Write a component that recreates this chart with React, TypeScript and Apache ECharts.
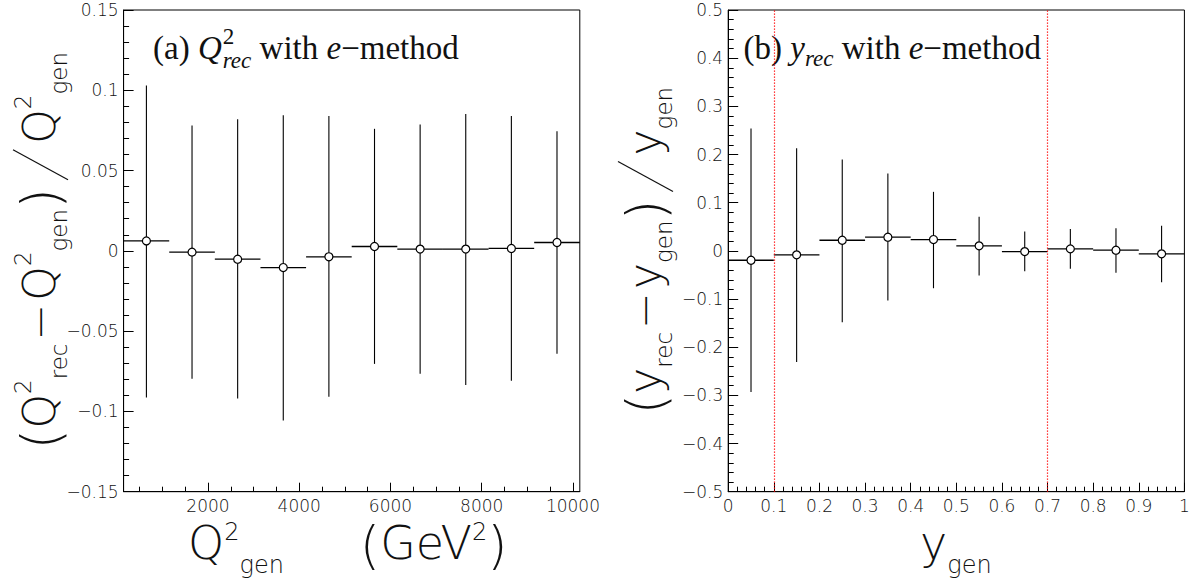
import React, { useEffect, useRef } from "react";
import * as echarts from "echarts";

// ---------------- data ----------------
// (a) Q^2 resolution: bin edges (GeV^2), mean relative residual, error-bar ends
const q2Edges = [150, 1150, 2150, 3150, 4150, 5150, 6150, 7150, 8150, 9150, 10150];
const q2Mean = [0.0062, -0.0008, -0.0052, -0.0104, -0.0037, 0.0027, 0.0011, 0.0011, 0.0015, 0.0052];
const q2ErrHigh = [0.103, 0.078, 0.082, 0.0845, 0.084, 0.076, 0.0787, 0.0853, 0.084, 0.0745];
const q2ErrLow = [-0.0913, -0.0797, -0.0919, -0.1056, -0.0909, -0.0704, -0.0766, -0.0836, -0.0809, -0.0641];
const q2MajorTicks = [2000, 4000, 6000, 8000, 10000];
const q2MinorTicks = [500, 1000, 1500, 2500, 3000, 3500, 4500, 5000, 5500, 6500, 7000, 7500, 8500, 9000, 9500];

// (b) y resolution
const yEdges = [0, 0.1, 0.2, 0.3, 0.4, 0.5, 0.6, 0.7, 0.8, 0.9, 1.0];
const yMean = [-0.0195, -0.0083, 0.022, 0.0283, 0.0235, 0.0104, -0.0015, 0.0041, 0.0013, -0.0062];
const yErrHigh = [0.254, 0.213, 0.1895, 0.1605, 0.1225, 0.0706, 0.04, 0.0456, 0.047, 0.052];
const yErrLow = [-0.293, -0.2305, -0.148, -0.1032, -0.0776, -0.0513, -0.0423, -0.0374, -0.0457, -0.065];
const yCuts = [0.1, 0.7];

// ---------------- styling ----------------
const SANS = '"DejaVu Sans", sans-serif';
const SERIF = '"Liberation Serif", "Times New Roman", serif';
const SANS_W = 300;
const TXT = "#111";

type Run = {
  t: string;
  size: number;
  dy?: number;
  italic?: boolean;
  stack?: boolean;
  padL?: number;
  padR?: number;
  scaleX?: number;
  slash?: { w: number; top: number; bottom: number };
};

let mctx: CanvasRenderingContext2D | null = null;
function measure(t: string, size: number, family: string, italic: boolean, weight: number | string) {
  if (!mctx) mctx = document.createElement("canvas").getContext("2d");
  mctx!.font = `${italic ? "italic" : "normal"} ${weight} ${size}px ${family}`;
  return mctx!.measureText(t).width;
}

function layout(runs: Run[], family: string, weight: number | string, central: number, shiftX = 0) {
  let x = 0;
  let prevStart = 0;
  const raw: any[] = [];
  for (const r of runs) {
    const sx = r.scaleX ?? 1;
    const w = r.slash ? r.slash.w : measure(r.t, r.size, family, !!r.italic, weight) * sx;
    let start: number;
    if (r.stack) {
      start = prevStart;
      x = Math.max(x, start + w + (r.padR ?? 0));
    } else {
      start = x + (r.padL ?? 0);
      x = start + w + (r.padR ?? 0);
    }
    prevStart = start;
    raw.push({ r, start, sx });
  }
  const width = x;
  const items = raw.map(({ r, start, sx }) => {
    if (r.slash) {
      return {
        type: "line",
        silent: true,
        shape: { x1: start + shiftX, y1: r.slash.bottom, x2: start + shiftX + r.slash.w, y2: r.slash.top },
        style: { stroke: TXT, lineWidth: 1.2 },
      };
    }
    return {
      type: "text",
      silent: true,
      x: start + shiftX,
      y: (r.dy ?? 0) - central * r.size,
      scaleX: sx,
      style: {
        text: r.t,
        fontSize: r.size,
        fontFamily: family,
        fontWeight: weight,
        fontStyle: r.italic ? "italic" : "normal",
        fill: TXT,
        align: "left",
        verticalAlign: "middle",
        textAlign: "left",
        textVerticalAlign: "middle",
      },
    };
  });
  return { items, width };
}

function centered(runs: Run[], family: string, weight: number | string, central: number) {
  const first = layout(runs, family, weight, central);
  return layout(runs, family, weight, central, -first.width / 2).items;
}

const fmt = (v: number) => parseFloat(v.toFixed(3)).toString().replace("-", "\u2212");

function rows(edges: number[], mean: number[], lo: number[], hi: number[]) {
  return mean.map((m, i) => [edges[i], edges[i + 1], m, lo[i], hi[i]]);
}

function renderBins(_params: any, api: any) {
  const x0 = api.value(0);
  const x1 = api.value(1);
  const v = api.value(2);
  const eLo = api.value(3);
  const eHi = api.value(4);
  const c = (x0 + x1) / 2;
  const pL = api.coord([x0, v]);
  const pR = api.coord([x1, v]);
  const pC = api.coord([c, v]);
  const pT = api.coord([c, eHi]);
  const pB = api.coord([c, eLo]);
  return {
    type: "group",
    children: [
      { type: "line", shape: { x1: pB[0], y1: pB[1], x2: pT[0], y2: pT[1] }, style: { stroke: "#000", lineWidth: 1.1 } },
      { type: "line", shape: { x1: pL[0], y1: pL[1], x2: pR[0], y2: pR[1] }, style: { stroke: "#000", lineWidth: 1.3 } },
      { type: "circle", shape: { cx: pC[0], cy: pC[1], r: 4 }, style: { fill: "#fff", stroke: "#000", lineWidth: 1.2 } },
    ],
  };
}

const GRID_TOP = 10;
const GRID_H = 481.7;
const GRID_W = 456.2;
const LEFT_A = 123.6;
const LEFT_B = 728.2;

const axisLineStyle = { show: true, onZero: false, lineStyle: { color: "#000", width: 1 } };
const labelStyle = { color: TXT, fontSize: 17, fontFamily: SANS, fontWeight: SANS_W };

export default function App() {
  const ref = useRef<HTMLDivElement>(null);

  useEffect(() => {
    if (!ref.current) return;
    const chart = echarts.init(ref.current, undefined, { renderer: "svg" });

    const BIG = 44;
    const SM = 23;
    const PAR = 54;
    const SLASH = { w: 30, top: -42, bottom: 13 };

    const leftYTitle: Run[] = [
      { t: "(", size: PAR, dy: 5 },
      { t: "Q", size: BIG },
      { t: "2", size: SM, dy: -24 },
      { t: "rec", size: SM, dy: 12 },
      { t: "\u2212", size: BIG, padL: 3, padR: 3 },
      { t: "Q", size: BIG },
      { t: "2", size: SM, dy: -24 },
      { t: "gen", size: SM, dy: 12 },
      { t: ")", size: PAR, dy: 5 },
      { t: "/", size: BIG, slash: SLASH, padL: 8, padR: 6 },
      { t: "Q", size: BIG },
      { t: "2", size: SM, dy: -24 },
      { t: "gen", size: SM, dy: 12 },
    ];
    const rightYTitle: Run[] = [
      { t: "(", size: PAR, dy: 5 },
      { t: "y", size: BIG },
      { t: "rec", size: SM, dy: 12 },
      { t: "\u2212", size: BIG, padL: 3, padR: 3 },
      { t: "y", size: BIG },
      { t: "gen", size: SM, dy: 12 },
      { t: ")", size: PAR, dy: 5 },
      { t: "/", size: BIG, slash: SLASH, padL: 8, padR: 6 },
      { t: "y", size: BIG },
      { t: "gen", size: SM, dy: 12 },
    ];
    const leftXTitle: Run[] = [
      { t: "Q", size: 46 },
      { t: "2", size: 24, dy: -19 },
      { t: "gen", size: 24, dy: 14 },
      { t: "(", size: 52, dy: 4, padL: 76 },
      { t: "GeV", size: 46 },
      { t: "2", size: 24, dy: -19 },
      { t: ")", size: 52, dy: 4 },
    ];
    const rightXTitle: Run[] = [
      { t: "y", size: 46 },
      { t: "gen", size: 24, dy: 14 },
    ];

    const TS = 33;
    const TSS = TS * 0.7;
    const titleA: Run[] = [
      { t: "(a) ", size: TS },
      { t: "Q", size: TS, italic: true, padR: 1 },
      { t: "2", size: TSS, dy: -0.45 * TS },
      { t: "rec", size: TSS, italic: true, dy: 0.28 * TS, stack: true },
      { t: " with ", size: TS },
      { t: "e", size: TS, italic: true },
      { t: "\u2212method", size: TS },
    ];
    const titleB: Run[] = [
      { t: "(b) ", size: TS },
      { t: "y", size: TS, italic: true },
      { t: "rec", size: TSS, italic: true, dy: 0.22 * TS },
      { t: " with ", size: TS },
      { t: "e", size: TS, italic: true },
      { t: "\u2212method", size: TS },
    ];

    const C_SANS = 0.345;
    const C_SERIF = 0.338;
    const midY = GRID_TOP + GRID_H / 2;

    const graphicEls: any[] = [
      { type: "group", x: 55, y: midY, rotation: Math.PI / 2, children: centered(leftYTitle, SANS, SANS_W, C_SANS) },
      { type: "group", x: 660, y: midY, rotation: Math.PI / 2, children: centered(rightYTitle, SANS, SANS_W, C_SANS) },
      { type: "group", x: 188, y: 559, children: layout(leftXTitle, SANS, SANS_W, C_SANS).items },
      { type: "group", x: 920, y: 559, children: layout(rightXTitle, SANS, SANS_W, C_SANS).items },
      { type: "group", x: 153, y: 59, children: layout(titleA, SERIF, "normal", C_SERIF).items },
      { type: "group", x: 743.5, y: 59, children: layout(titleB, SERIF, "normal", C_SERIF).items },
    ];

    chart.setOption({
      animation: false,
      backgroundColor: "#fff",
      grid: [
        { left: LEFT_A, top: GRID_TOP, width: GRID_W, height: GRID_H, show: true, borderColor: "#000", borderWidth: 1, backgroundColor: "transparent" },
        { left: LEFT_B, top: GRID_TOP, width: GRID_W, height: GRID_H, show: true, borderColor: "#000", borderWidth: 1, backgroundColor: "transparent" },
      ],
      xAxis: [
        {
          type: "value", gridIndex: 0, position: "bottom", min: q2Edges[0], max: q2Edges[q2Edges.length - 1],
          axisLine: axisLineStyle,
          axisTick: { show: true, inside: true, length: 9, customValues: q2MajorTicks, lineStyle: { color: "#000" } },
          axisLabel: { ...labelStyle, margin: 6, customValues: q2MajorTicks, formatter: (v: number) => String(v) },
          splitLine: { show: false },
        },
        {
          type: "value", gridIndex: 0, position: "bottom", min: q2Edges[0], max: q2Edges[q2Edges.length - 1],
          axisLine: { show: false, onZero: false },
          axisTick: { show: true, inside: true, length: 5, customValues: q2MinorTicks, lineStyle: { color: "#000" } },
          axisLabel: { show: false },
          splitLine: { show: false },
        },
        {
          type: "value", gridIndex: 1, position: "bottom", min: 0, max: 1, interval: 0.1,
          axisLine: axisLineStyle,
          axisTick: { show: true, inside: true, length: 9, lineStyle: { color: "#000" } },
          minorTick: { show: true, splitNumber: 5, length: 5, lineStyle: { color: "#000" } },
          axisLabel: { ...labelStyle, margin: 6, formatter: fmt, showMaxLabel: true, showMinLabel: true },
          splitLine: { show: false },
          minorSplitLine: { show: false },
        },
      ],
      yAxis: [
        {
          type: "value", gridIndex: 0, min: -0.15, max: 0.15, interval: 0.05,
          axisLine: axisLineStyle,
          axisTick: { show: true, inside: true, length: 10, lineStyle: { color: "#000" } },
          minorTick: { show: true, splitNumber: 5, length: 5.5, lineStyle: { color: "#000" } },
          axisLabel: { ...labelStyle, margin: 5, formatter: fmt, showMaxLabel: true, showMinLabel: true },
          splitLine: { show: false },
          minorSplitLine: { show: false },
        },
        {
          type: "value", gridIndex: 1, min: -0.5, max: 0.5, interval: 0.1,
          axisLine: axisLineStyle,
          axisTick: { show: true, inside: true, length: 10, lineStyle: { color: "#000" } },
          minorTick: { show: true, splitNumber: 5, length: 5.5, lineStyle: { color: "#000" } },
          axisLabel: { ...labelStyle, margin: 5, formatter: fmt, showMaxLabel: true, showMinLabel: true },
          splitLine: { show: false },
          minorSplitLine: { show: false },
        },
      ],
      series: [
        {
          type: "custom", xAxisIndex: 0, yAxisIndex: 0, renderItem: renderBins,
          data: rows(q2Edges, q2Mean, q2ErrLow, q2ErrHigh), silent: true, clip: false,
        },
        {
          type: "custom", xAxisIndex: 2, yAxisIndex: 1, renderItem: renderBins,
          data: rows(yEdges, yMean, yErrLow, yErrHigh), silent: true, clip: false,
          markLine: {
            silent: true, symbol: ["none", "none"], label: { show: false },
            lineStyle: { color: "#ff0000", type: [1.2, 1.8], width: 1.2 },
            emphasis: { disabled: true },
            data: yCuts.map((c) => ({ xAxis: c })),
          },
        },
      ],
      graphic: { elements: graphicEls },
    });

    return () => chart.dispose();
  }, []);

  return (
    <div
      ref={ref}
      style={{ position: "absolute", left: 0, top: 0, width: 1200, height: 581, background: "#fff" }}
    />
  );
}
